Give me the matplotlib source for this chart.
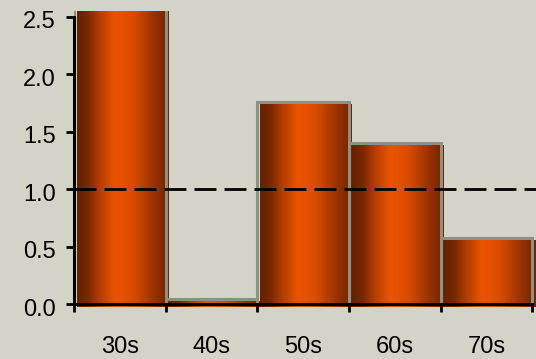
import numpy as np
import matplotlib
matplotlib.use("Agg")
import matplotlib.pyplot as plt
from matplotlib.transforms import ScaledTranslation
from matplotlib.ticker import FixedLocator, NullFormatter

# Data
decades = ["30s", "40s", "50s", "60s", "70s"]
values = [2.6, 0.05, 1.76, 1.40, 0.58]
reference_level = 1.0
y_ticks = [0.0, 0.5, 1.0, 1.5, 2.0, 2.5]
y_tick_labels = ["0.0", "0.5", "1.0", "1.5", "2.0", "2.5"]

BG = "#d3d3c7"
FRAME = "#8e9083"
plt.rcParams["font.family"] = ["Liberation Sans", "DejaVu Sans"]
plt.rcParams["lines.scale_dashes"] = False

DPI = 100
fig = plt.figure(figsize=(5.36, 3.59), dpi=DPI, facecolor=BG)
ax = fig.add_axes([0.1377, 0.1422, 1.0 - 0.1377, 0.9694 - 0.1422])
ax.set_facecolor(BG)

x = np.arange(len(decades))

# horizontal shading across each bar: dark edges, bright orange centre
stops = np.array([
    [0.00, 100, 34, 0],
    [0.12, 122, 40, 0],
    [0.24, 178, 60, 0],
    [0.40, 232, 82, 0],
    [0.50, 230, 80, 0],
    [0.62, 215, 75, 0],
    [0.82, 158, 52, 0],
    [1.00, 108, 36, 0],
])
pos = np.linspace(0, 1, 256)
grad = np.stack([np.interp(pos, stops[:, 0], stops[:, k]) for k in (1, 2, 3)], axis=-1) / 255.0
grad = grad[np.newaxis, :, :]

# shaded bodies sit slightly down and right of their outlines
shift = ax.transData + ScaledTranslation(3 / DPI, -3 / DPI, fig.dpi_scale_trans)
for xi, v in zip(x, values):
    ax.imshow(grad, extent=(xi - 0.5, xi + 0.5, 0, v), aspect="auto",
              interpolation="bilinear", transform=shift, zorder=1)

# outlines at the true bar positions
ax.bar(x, values, width=1.0, fill=False, edgecolor=FRAME, linewidth=2.2, zorder=2)

# reference level
ax.axhline(reference_level, color="black", linewidth=2.0, dashes=(15.8, 5.8), zorder=3)

ax.set_xlim(-0.5, 4.54)
ax.set_ylim(-0.03, 2.548)

for side in ("top", "right"):
    ax.spines[side].set_visible(False)
ax.spines["left"].set_bounds(0, 2.5)
ax.spines["bottom"].set_bounds(-0.5, 4.5)
ax.spines["bottom"].set_position(("data", 0))
for side in ("left", "bottom"):
    ax.spines[side].set_linewidth(2.2)
    ax.spines[side].set_color("black")
    ax.spines[side].set_zorder(4)

# bar boundaries carry the tick marks, decade labels sit in between
ax.xaxis.set_major_locator(FixedLocator(np.arange(-0.5, len(decades), 1.0)))
ax.xaxis.set_major_formatter(NullFormatter())
ax.xaxis.set_minor_locator(FixedLocator(x))
ax.set_xticklabels(decades, minor=True)
ax.tick_params(axis="x", which="major", direction="out", length=5.5, width=2.0, color="black")
ax.tick_params(axis="x", which="minor", length=0, pad=23, labelsize=17)

ax.set_yticks(y_ticks)
ax.set_yticklabels(y_tick_labels)
ax.tick_params(axis="y", direction="out", length=6, width=2.0, color="black", pad=7, labelsize=17)
down = ScaledTranslation(0, -3 / DPI, fig.dpi_scale_trans)
for lab in ax.get_yticklabels():
    lab.set_transform(lab.get_transform() + down)

fig.savefig("out.png", dpi=DPI, facecolor=BG)
